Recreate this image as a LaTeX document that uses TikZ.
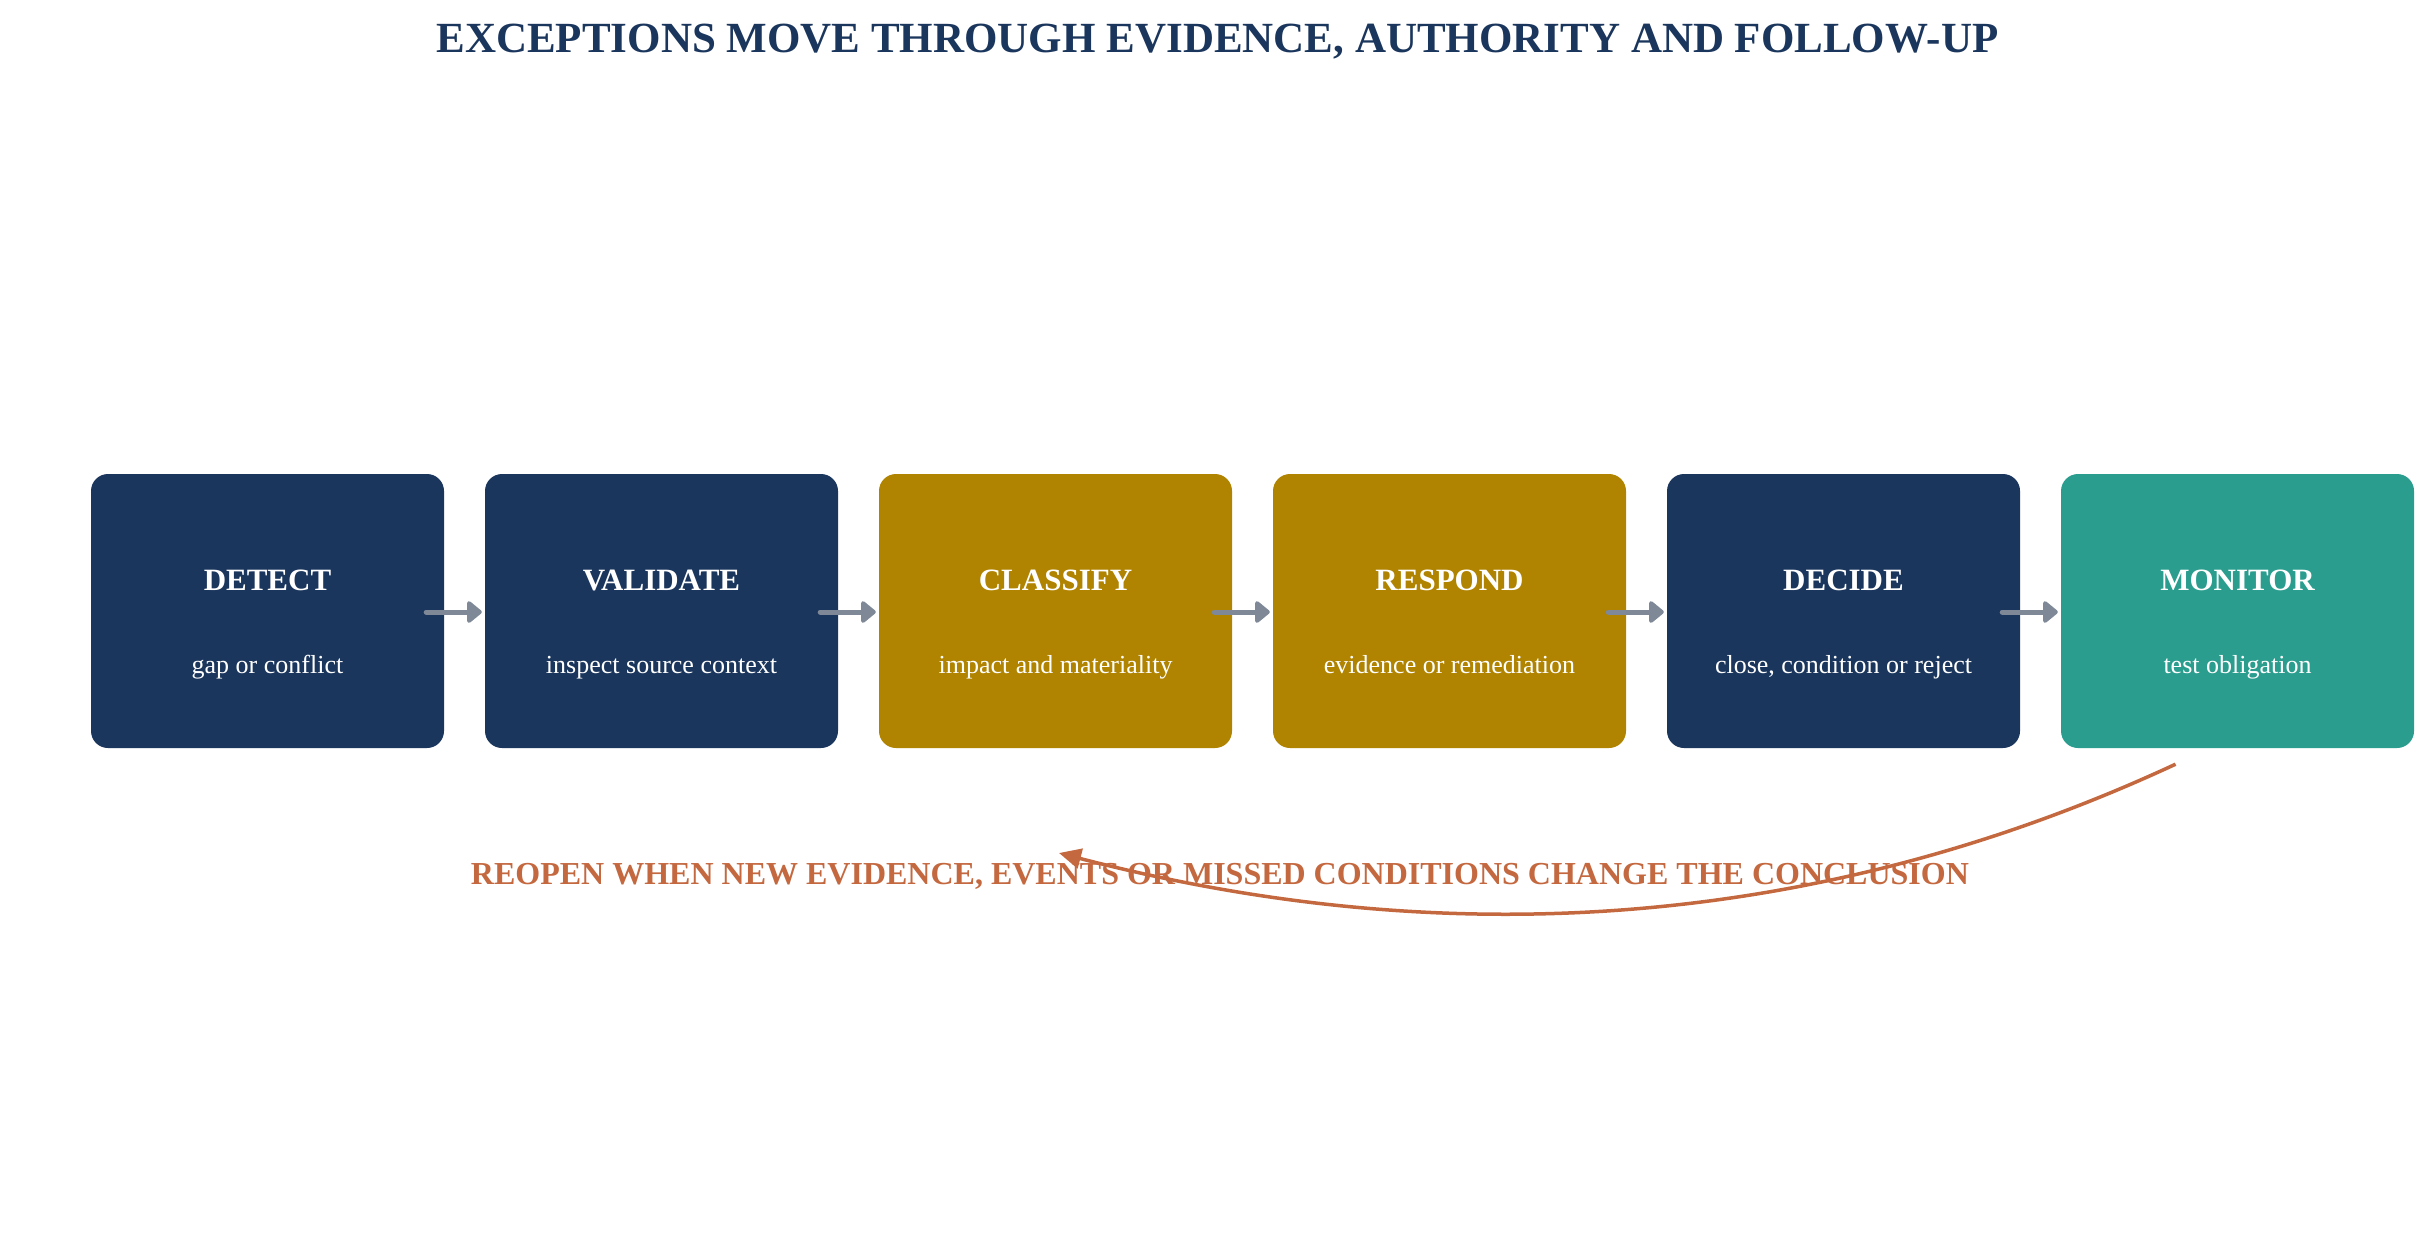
\documentclass[tikz,border=0pt]{standalone}
\usepackage{fontspec}
\setmainfont{Liberation Serif}
\usetikzlibrary{arrows.meta,calc}
\definecolor{navy}{HTML}{1B365D}
\definecolor{gold}{HTML}{B08300}
\definecolor{teal}{HTML}{2A9D8E}
\definecolor{flowgray}{HTML}{7F8896}
\definecolor{rust}{HTML}{C4683F}
\begin{document}
\begin{tikzpicture}[x=1pt,y=-1pt,
  stage/.style={rounded corners=17pt, minimum width=353pt, minimum height=274pt, inner sep=0pt, draw=none},
  headtxt/.style={font=\fontsize{31}{31}\selectfont\bfseries, text=white, anchor=base, inner sep=0pt},
  subtxt/.style={font=\fontsize{26}{26}\selectfont, text=white, anchor=base, inner sep=0pt},
  flow/.style={draw=flowgray, line width=5pt, line cap=round, -{Triangle[length=16pt,width=25pt,round]}},
  loopback/.style={draw=rust, line width=3.5pt, -{Triangle[length=22pt,width=20pt]}},
  titletxt/.style={font=\fontsize{43}{43}\selectfont\bfseries, text=navy, anchor=base, inner sep=0pt},
  notetxt/.style={font=\fontsize{32}{32}\selectfont\bfseries, text=rust, anchor=base, inner sep=0pt}]
\useasboundingbox[fill=white] (0,0) rectangle (2435,1248);

\node[titletxt] (title) at (1217.5,52) {EXCEPTIONS MOVE THROUGH EVIDENCE, AUTHORITY AND FOLLOW-UP};

\node[stage, fill=navy] (detect) at (267.5,611) {};
\node[stage, fill=navy] (validate) at (661.5,611) {};
\node[stage, fill=gold] (classify) at (1055.5,611) {};
\node[stage, fill=gold] (respond) at (1449.5,611) {};
\node[stage, fill=navy] (decide) at (1843.5,611) {};
\node[stage, fill=teal] (monitor) at (2237.5,611) {};

\foreach \n/\h/\s in {detect/DETECT/gap or conflict,
                      validate/VALIDATE/inspect source context,
                      classify/CLASSIFY/impact and materiality,
                      respond/RESPOND/evidence or remediation,
                      decide/DECIDE/{close, condition or reject},
                      monitor/MONITOR/test obligation}{
  \node[headtxt] (\n-h) at ($(\n.north)+(0,117)$) {\h};
  \node[subtxt] (\n-s) at ($(\n.north)+(0,200)$) {\s};
}

\foreach \a/\b in {detect/validate, validate/classify, classify/respond, respond/decide, decide/monitor}{
  \draw[flow] ($(\a.east)+(-18,1)$) -- ($(\b.west)+(-3,1)$);
}

\node[notetxt] (note) at (1220,884) {REOPEN WHEN NEW EVIDENCE, EVENTS OR MISSED CONDITIONS CHANGE THE CONCLUSION};

\coordinate (loopstart) at ($(monitor.south)+(-62,16)$);
\coordinate (loopend) at (1059,853);
\draw[loopback] (loopstart) .. controls (1823,928) and (1451,955) .. (loopend);
\end{tikzpicture}
\end{document}
